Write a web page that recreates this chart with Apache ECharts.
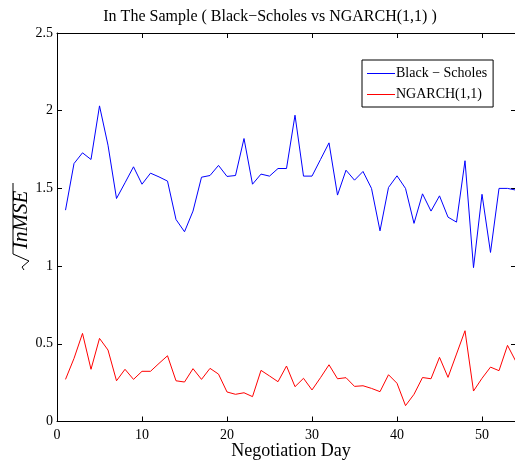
<!DOCTYPE html>
<html>
<head>
<meta charset="utf-8">
<script src="https://cdn.jsdelivr.net/npm/echarts@6/dist/echarts.min.js"></script>
<style>html,body{margin:0;padding:0;background:#fff}#c{width:515px;height:462px}</style>
</head>
<body>
<div id="c"></div>
<script>
const days = Array.from({length: 54}, (_, i) => i + 1);
const blackScholes = [1.360,1.660,1.729,1.686,2.031,1.778,1.435,1.536,1.639,1.527,
  1.598,1.574,1.547,1.300,1.221,1.354,1.572,1.583,1.648,1.577,
  1.583,1.821,1.527,1.592,1.579,1.628,1.628,1.971,1.579,1.579,
  1.686,1.793,1.457,1.617,1.553,1.609,1.500,1.227,1.506,1.581,
  1.500,1.275,1.465,1.354,1.452,1.315,1.283,1.678,0.990,1.462,
  1.088,1.500,1.500,1.489];
const ngarch = [0.271,0.406,0.567,0.336,0.535,0.460,0.262,0.336,0.271,0.323,
  0.323,0.374,0.423,0.262,0.254,0.340,0.271,0.342,0.305,0.190,
  0.175,0.185,0.160,0.329,0.293,0.256,0.357,0.224,0.278,0.203,
  0.282,0.365,0.275,0.282,0.226,0.230,0.213,0.192,0.301,0.246,
  0.102,0.175,0.283,0.275,0.413,0.284,0.434,0.584,0.196,0.278,
  0.350,0.327,0.490,0.385];
const seriesNames = ['Black \u2212 Scholes', 'NGARCH(1,1)'];
const titleText = 'In The Sample ( Black\u2212Scholes vs NGARCH(1,1) )';
const xName = 'Negotiation Day';

const serif = 'Liberation Serif, Times New Roman, serif';
const chart = echarts.init(document.getElementById('c'), null, {renderer: 'canvas'});
const axisCommon = {
  axisLine: {show: true, onZero: false, lineStyle: {color: '#000', width: 1}},
  axisTick: {show: true, inside: true, length: 5, lineStyle: {color: '#000'}},
  splitLine: {show: false}
};
chart.setOption({
  animation: false,
  backgroundColor: '#fff',
  title: {
    text: titleText, left: 265, top: 4, textAlign: 'center',
    textStyle: {fontFamily: serif, fontSize: 16, fontWeight: 'normal', color: '#000'}
  },
  legend: {
    orient: 'vertical', left: 362, top: 60, width: 134,
    backgroundColor: '#fff', borderColor: '#000', borderWidth: 1, borderRadius: 0,
    padding: [5, 6, 4, 5], itemGap: 4, itemWidth: 28, itemHeight: 1, icon: 'rect',
    textStyle: {fontFamily: serif, fontSize: 14, color: '#000', padding: [0, 0, 0, -4], lineHeight: 17},
    data: seriesNames
  },
  grid: {left: 57, top: 33, width: 459, height: 388.5, containLabel: false, outerBoundsMode: 'none'},
  xAxis: [
    Object.assign({
      type: 'value', min: 0, max: 54, interval: 10, position: 'bottom',
      name: xName, nameLocation: 'middle', nameGap: 21, nameMoveOverlap: false,
      nameTextStyle: {fontFamily: serif, fontSize: 18, color: '#000', padding: [0, 0, 0, 9]},
      axisLabel: {fontFamily: serif, fontSize: 14, color: '#000', margin: 7, showMaxLabel: false}
    }, axisCommon),
    Object.assign({
      type: 'value', min: 0, max: 54, interval: 10, position: 'top',
      axisLabel: {show: false}
    }, axisCommon)
  ],
  yAxis: [
    Object.assign({
      type: 'value', min: 0, max: 2.5, interval: 0.5, position: 'left',
      axisLabel: {fontFamily: serif, fontSize: 14, color: '#000', margin: 4}
    }, axisCommon),
    Object.assign({
      type: 'value', min: 0, max: 2.5, interval: 0.5, position: 'right',
      axisLabel: {show: false}
    }, axisCommon)
  ],
  series: [
    {name: seriesNames[0], type: 'line', symbol: 'none', xAxisIndex: 0, yAxisIndex: 0,
     data: days.map((d, i) => [d, blackScholes[i]]),
     lineStyle: {color: '#0000ff', width: 1}, itemStyle: {color: '#0000ff'}},
    {name: seriesNames[1], type: 'line', symbol: 'none', xAxisIndex: 0, yAxisIndex: 0,
     data: days.map((d, i) => [d, ngarch[i]]),
     lineStyle: {color: '#ff0000', width: 1}, itemStyle: {color: '#ff0000'}}
  ],
  graphic: [{
    type: 'group', x: 32, y: 249, rotation: Math.PI / 2,
    children: [
      {type: 'text', x: 0, y: 0, style: {text: 'InMSE', fontFamily: serif, fontStyle: 'italic',
        fontSize: 21, fill: '#000', textVerticalAlign: 'bottom', textAlign: 'left'}},
      {type: 'polyline', shape: {points: [[-21, -8], [-18, -10], [-12, -3], [-5, -19], [66, -19]]},
        style: {stroke: '#000', lineWidth: 1, fill: null}}
    ]
  }]
});
</script>
</body>
</html>
